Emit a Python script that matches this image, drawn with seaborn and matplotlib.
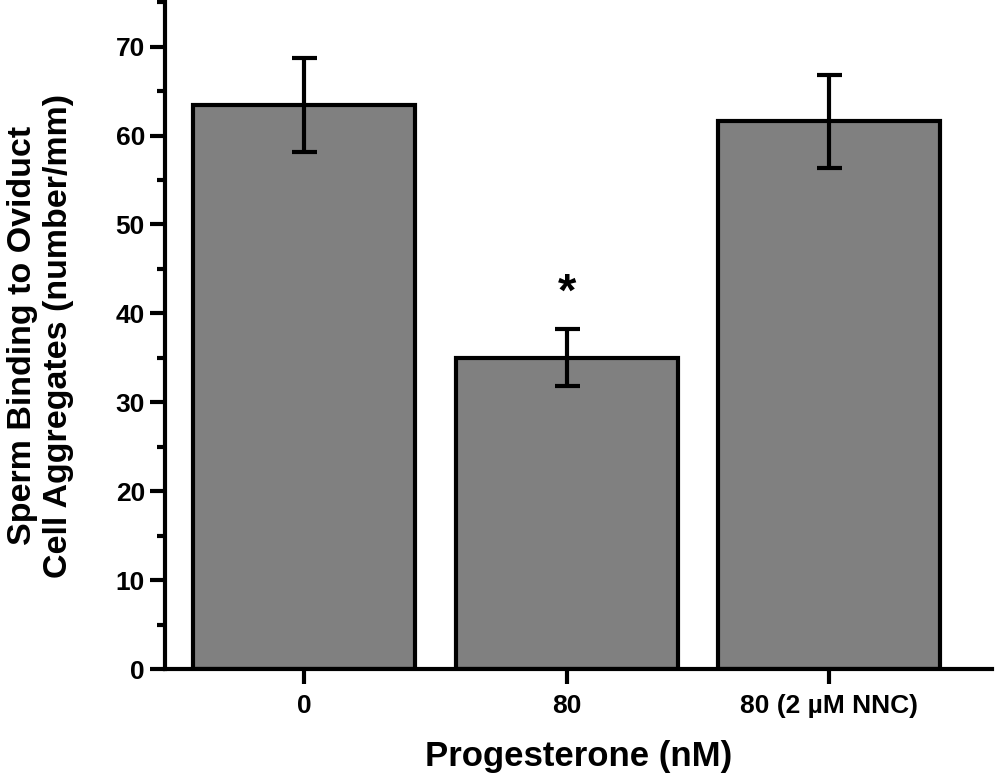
import pandas as pd
import matplotlib
matplotlib.use("Agg")
import matplotlib.pyplot as plt
import seaborn as sns
from matplotlib.ticker import MultipleLocator

# Data
groups = ["0", "80", "80 (2 µM NNC)"]
binding = [63.4, 35.0, 61.6]
sem = [5.3, 3.2, 5.2]

df = pd.DataFrame({"group": groups, "binding": binding})

sns.set_style("ticks")
plt.rcParams["font.family"] = ["Liberation Sans", "DejaVu Sans"]
plt.rcParams["font.weight"] = "bold"
plt.rcParams["text.color"] = "black"
plt.rcParams["axes.labelcolor"] = "black"

fig = plt.figure(figsize=(9.96, 7.79), dpi=100)
ax = fig.add_axes([0.1657, 0.1412, 0.8303, 0.8560])

sns.barplot(data=df, x="group", y="binding", color="#808080", width=0.846,
            edgecolor="black", linewidth=3, errorbar=None, saturation=1, ax=ax)
ax.errorbar(range(len(groups)), binding, yerr=sem, fmt="none", ecolor="black",
            elinewidth=3, capsize=9, capthick=3)

# significance mark
ax.text(1, 42.2, "*", ha="center", va="center", fontsize=34, fontweight="bold")

ax.set_xlim(-0.53, 2.62)
ax.set_ylim(0, 75)
ax.yaxis.set_major_locator(MultipleLocator(10))
ax.yaxis.set_minor_locator(MultipleLocator(5))

sns.despine(ax=ax)
for side in ["left", "bottom"]:
    ax.spines[side].set_linewidth(3)
    ax.spines[side].set_color("black")
ax.tick_params(axis="both", which="major", width=3, length=11, labelsize=19,
               colors="black", labelcolor="black")
ax.tick_params(axis="x", which="major", pad=7)
ax.tick_params(axis="y", which="minor", width=3, length=6, colors="black")
for lab in ax.get_xticklabels() + ax.get_yticklabels():
    lab.set_fontweight("bold")

ax.set_xlabel("Progesterone (nM)", fontsize=25, fontweight="bold", labelpad=16)
ax.set_ylabel("Sperm Binding to Oviduct\nCell Aggregates (number/mm)", fontsize=24.5,
              fontweight="bold", labelpad=30, linespacing=1.22)

fig.savefig("out.png", dpi=100)
